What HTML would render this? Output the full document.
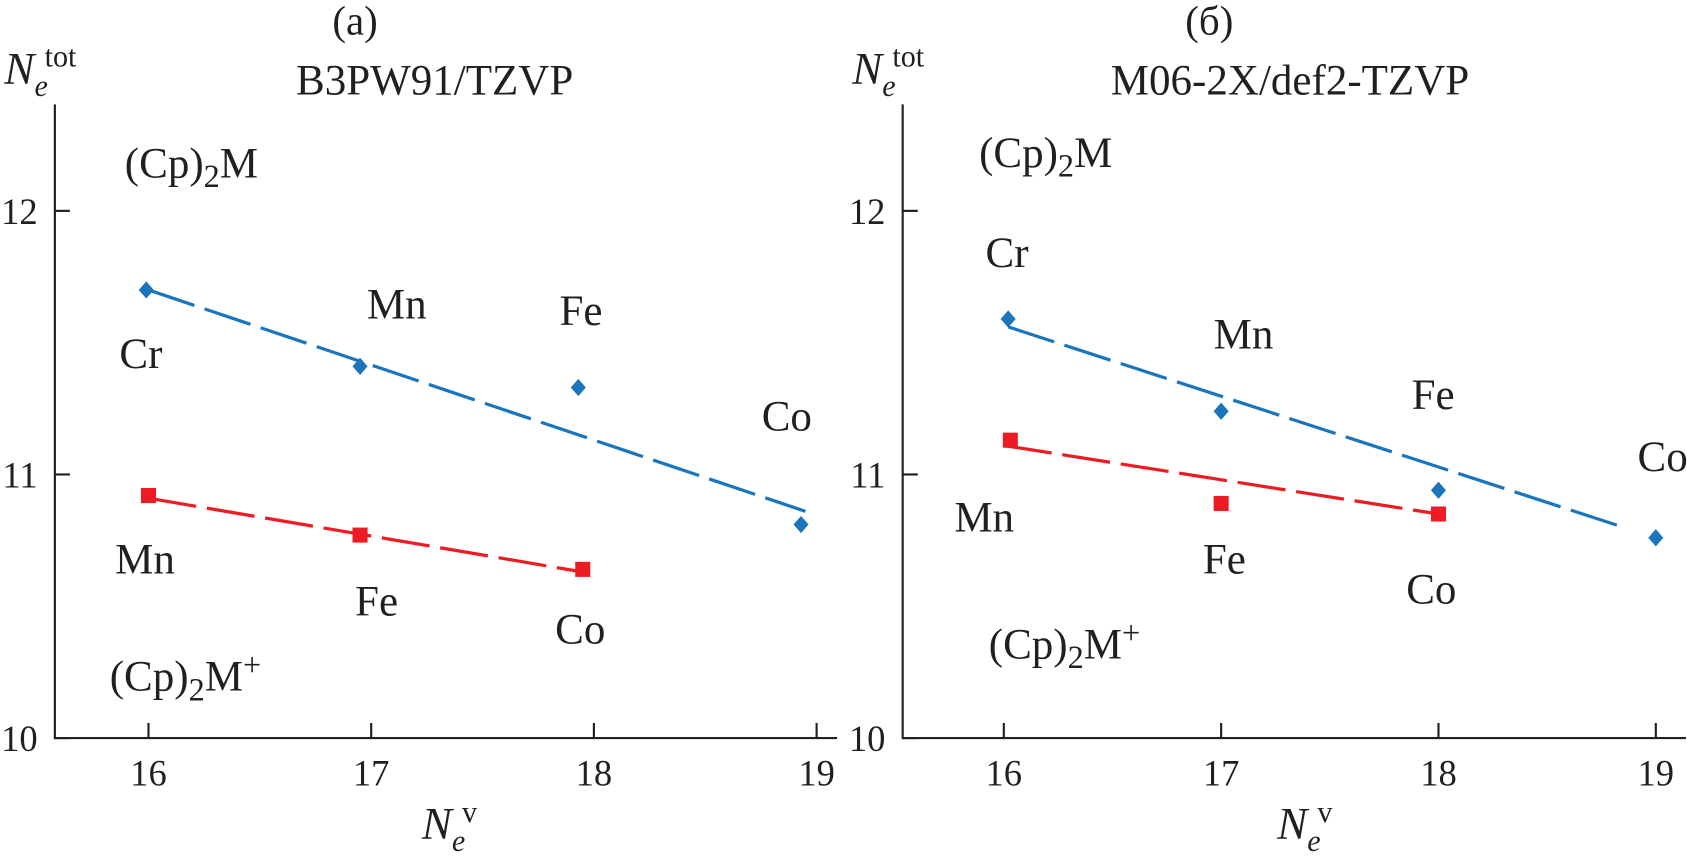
<!DOCTYPE html>
<html><head><meta charset="utf-8">
<style>
body{margin:0;background:#fff;}
svg text{font-family:"Liberation Serif",serif;fill:#231f20;}
</style></head>
<body>
<svg width="1687" height="860" xmlns="http://www.w3.org/2000/svg"><g id="chart" transform="scale(1.0759)"></g></svg>
<script>
// Panel (a) data
const xsA_blue = [15.99, 16.95, 17.93, 18.93];
const ysA_blue = [11.70, 11.41, 11.33, 10.81];
const xsA_red = [16.0, 16.95, 17.95];
const ysA_red = [10.92, 10.77, 10.64];
const fitA_blue_x = [16.0, 18.95];
const fitA_blue_y = [11.70, 10.86];
const fitA_red_x = [16.0, 17.95];
const fitA_red_y = [10.91, 10.63];
// Panel (b) data
const xsB_blue = [16.02, 17.0, 18.0, 19.0];
const ysB_blue = [11.59, 11.24, 10.94, 10.76];
const xsB_red = [16.03, 17.0, 18.0];
const ysB_red = [11.13, 10.89, 10.85];
const fitB_blue_x = [16.02, 18.85];
const fitB_blue_y = [11.56, 10.80];
const fitB_red_x = [16.0, 18.0];
const fitB_red_y = [11.11, 10.85];
const xTicks = [16, 17, 18, 19];
const yTicks = [10, 11, 12];

const svg = document.getElementById('chart');
const NS = 'http://www.w3.org/2000/svg';
function mk(tag, attrs, parent){const e=document.createElementNS(NS,tag);for(const k in attrs)e.setAttribute(k,attrs[k]);(parent||svg).appendChild(e);return e;}
function txt(s, x, y, size, name, parent, anchor){const t=mk('text',{x:x,y:y,'font-size':size,'text-anchor':anchor||'start'},parent);t.innerHTML=s;


return t;}

function panel(cfg){
  const g = mk('g',{});
  
  
  const sx = v => cfg.x16 + (v-16)*cfg.xu;
  const sy = v => 686 - (v-10)*245;
  const ax = mk('line',{x1:cfg.ax,y1:97,x2:cfg.ax,y2:687,stroke:'#231f20','stroke-width':2},g);
  
  
  const bx = mk('line',{x1:cfg.ax,y1:686,x2:cfg.xend,y2:686,stroke:'#231f20','stroke-width':2},g);
  
  
  yTicks.forEach(v=>{
    const l = mk('line',{x1:cfg.ax,y1:sy(v),x2:cfg.ax+14,y2:sy(v),stroke:'#231f20','stroke-width':2},g);
    
    
    txt(String(v), cfg.ax-16, sy(v)+12, 34, 'y-tick-label', g, 'end');
  });
  xTicks.forEach(v=>{
    const l = mk('line',{x1:sx(v),y1:686,x2:sx(v),y2:672,stroke:'#231f20','stroke-width':2},g);
    
    
    txt(String(v), sx(v), 730, 34, 'x-tick-label', g, 'middle');
  });
  [[cfg.fbx,cfg.fby,'#1b75bc','blue-fit-line'],[cfg.frx,cfg.fry,'#ed1c24','red-fit-line']].forEach(f=>{
    const l = mk('line',{x1:sx(f[0][0]),y1:sy(f[1][0]),x2:sx(f[0][1]),y2:sy(f[1][1]),stroke:f[2],'stroke-width':3,'stroke-dasharray':'45 10'},g);
    
    
  });
  cfg.bx.forEach((v,i)=>{
    const x=sx(v), y=sy(cfg.by[i]);
    const p = mk('polygon',{points:`${x},${y-8} ${x+7},${y} ${x},${y+8} ${x-7},${y}`,fill:'#1b75bc'},g);
    
    
  });
  cfg.rx.forEach((v,i)=>{
    const x=sx(v), y=sy(cfg.ry[i]);
    const p = mk('rect',{x:x-7,y:y-7,width:14,height:14,fill:'#ed1c24'},g);
    
    
  });
  txt(cfg.letter, cfg.letterX, 32, 38, 'panel-letter', g, 'middle');
  txt(cfg.title, cfg.titleX, 88, 40, 'method-title', g, 'middle');
  txt('<tspan font-style="italic">N</tspan><tspan font-style="italic" font-size="28" dy="11">e</tspan><tspan font-size="28" dy="-27" dx="-3">tot</tspan>', cfg.ax-47, 78, 42, 'y-axis-title', g);
  txt('<tspan font-style="italic">N</tspan><tspan font-style="italic" font-size="28" dy="11">e</tspan><tspan font-size="28" dy="-27" dx="-3">v</tspan>', cfg.x16+254, 780, 42, 'x-axis-title', g);
  cfg.labels.forEach(l=>txt(l[0], l[1], l[2], 40, l[3], g));
}

const SUB = '(Cp)<tspan font-size="30" dy="9">2</tspan><tspan dy="-9">M</tspan>';
panel({name:'panel-a', ax:51, xend:778, x16:138, xu:207,
  bx:xsA_blue, by:ysA_blue, rx:xsA_red, ry:ysA_red,
  fbx:fitA_blue_x, fby:fitA_blue_y, frx:fitA_red_x, fry:fitA_red_y,
  letter:'(a)', letterX:330, title:'B3PW91/TZVP', titleX:404,
  labels:[[SUB,116,165,'label-cp2m'],
    ['Cr',111,342,'label-cr'],['Mn',341,296,'label-mn'],['Fe',520,302,'label-fe'],['Co',708,400,'label-co'],
    ['Mn',107,533,'label-mn-plus'],['Fe',330,572,'label-fe-plus'],['Co',516,598,'label-co-plus'],
    [SUB+'<tspan font-size="30" dy="-14">+</tspan>',102,642,'label-cp2m-plus']]});

panel({name:'panel-b', ax:839, xend:1567, x16:933, xu:202,
  bx:xsB_blue, by:ysB_blue, rx:xsB_red, ry:ysB_red,
  fbx:fitB_blue_x, fby:fitB_blue_y, frx:fitB_red_x, fry:fitB_red_y,
  letter:'(б)', letterX:1124, title:'M06-2X/def2-TZVP', titleX:1199,
  labels:[[SUB,910,155,'label-cp2m'],
    ['Cr',916,248,'label-cr'],['Mn',1128,324,'label-mn'],['Fe',1312,380,'label-fe'],['Co',1522,438,'label-co'],
    ['Mn',887,494,'label-mn-plus'],['Fe',1118,533,'label-fe-plus'],['Co',1307,561,'label-co-plus'],
    [SUB+'<tspan font-size="30" dy="-14">+</tspan>',919,612,'label-cp2m-plus']]});
</script>
</body></html>
